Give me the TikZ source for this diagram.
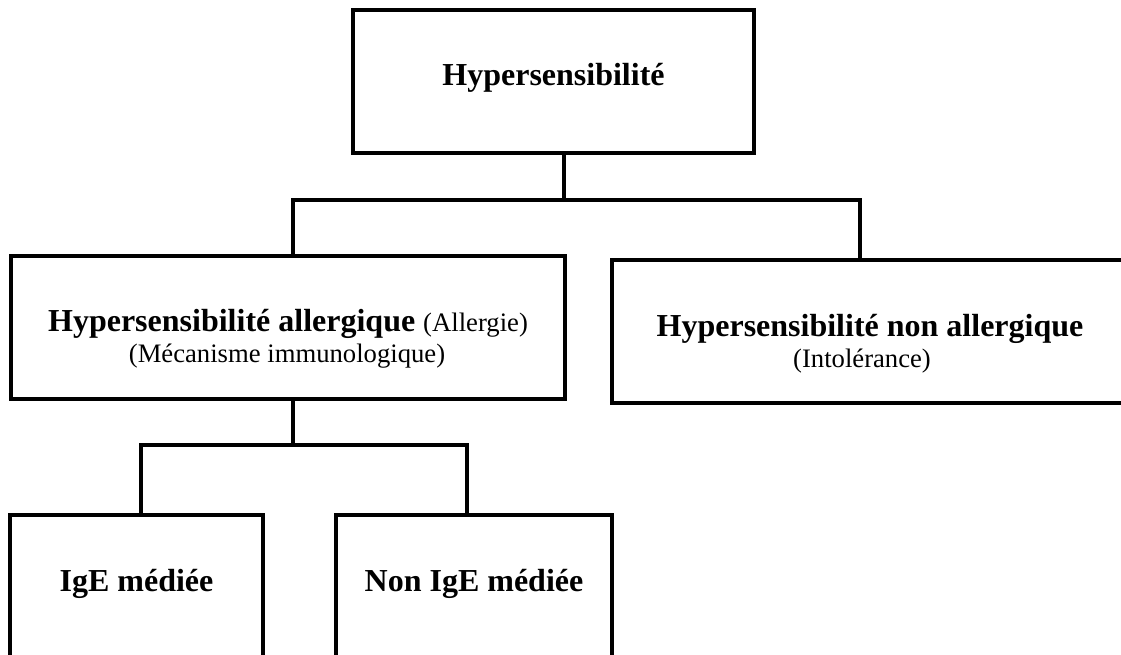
\documentclass[tikz,border=0pt]{standalone}
\usepackage{fontspec}
\setmainfont{Liberation Serif}
\begin{document}
\begin{tikzpicture}[x=0.75pt,y=-0.75pt,
  boxst/.style={draw=black, line width=2.5pt, rectangle, inner sep=0pt, fill=none},
  conn/.style={draw=black, line width=2.5pt, line join=miter},
  bigb/.style={font=\bfseries\fontsize{24}{28}\selectfont, anchor=base, inner sep=0pt},
  smallr/.style={font=\fontsize{20}{24}\selectfont, anchor=base, inner sep=0pt}]
\fill[white] (0,0) rectangle (1121,655);
\useasboundingbox (0,0) rectangle (1121,655);
\clip (0,0) rectangle (1121,655);

% boxes
\node[boxst, minimum width=300.75pt, minimum height=107.25pt] (top) at (553.5,81.5) {};
\node[boxst, minimum width=415.5pt, minimum height=107.25pt] (left) at (288,327.5) {};
\node[boxst, minimum width=387pt, minimum height=107.25pt] (right) at (870,331.5) {};
\node[boxst, minimum width=189.75pt, minimum height=112.5pt] (bl) at (136.5,590) {};
\node[boxst, minimum width=207pt, minimum height=112.5pt] (br) at (474,590) {};

% labels
\node[bigb] (ttop) at (553.5,86) {Hypersensibilité};
\node[bigb] (tleft1) at (288,332) {Hypersensibilité allergique {\mdseries\fontsize{20}{24}\selectfont (Allergie)}};
\node[smallr] (tleft2) at (287,363) {(Mécanisme immunologique)};
\node[bigb] (tright1) at (870,337) {Hypersensibilité non allergique};
\node[smallr] (tright2) at (862,368) {(Intolérance)};
\node[bigb] (tbl) at (136.5,591) {IgE médiée};
\node[bigb] (tbr) at (474,591) {Non IgE médiée};

% junction coordinates
\coordinate (j1) at (564,200);
\coordinate (hl) at (293,200);
\coordinate (hr) at (860,200);
\coordinate (j2) at (293,445);
\coordinate (gl) at (141,445);
\coordinate (gr) at (467,445);

% connectors
\draw[conn] (top.south -| j1) -- (j1);
\draw[conn] (left.north -| hl) -- (hl) -- (hr) -- (right.north -| hr);
\draw[conn] (left.south -| j2) -- (j2);
\draw[conn] (bl.north -| gl) -- (gl) -- (gr) -- (br.north -| gr);
\end{tikzpicture}
\end{document}
